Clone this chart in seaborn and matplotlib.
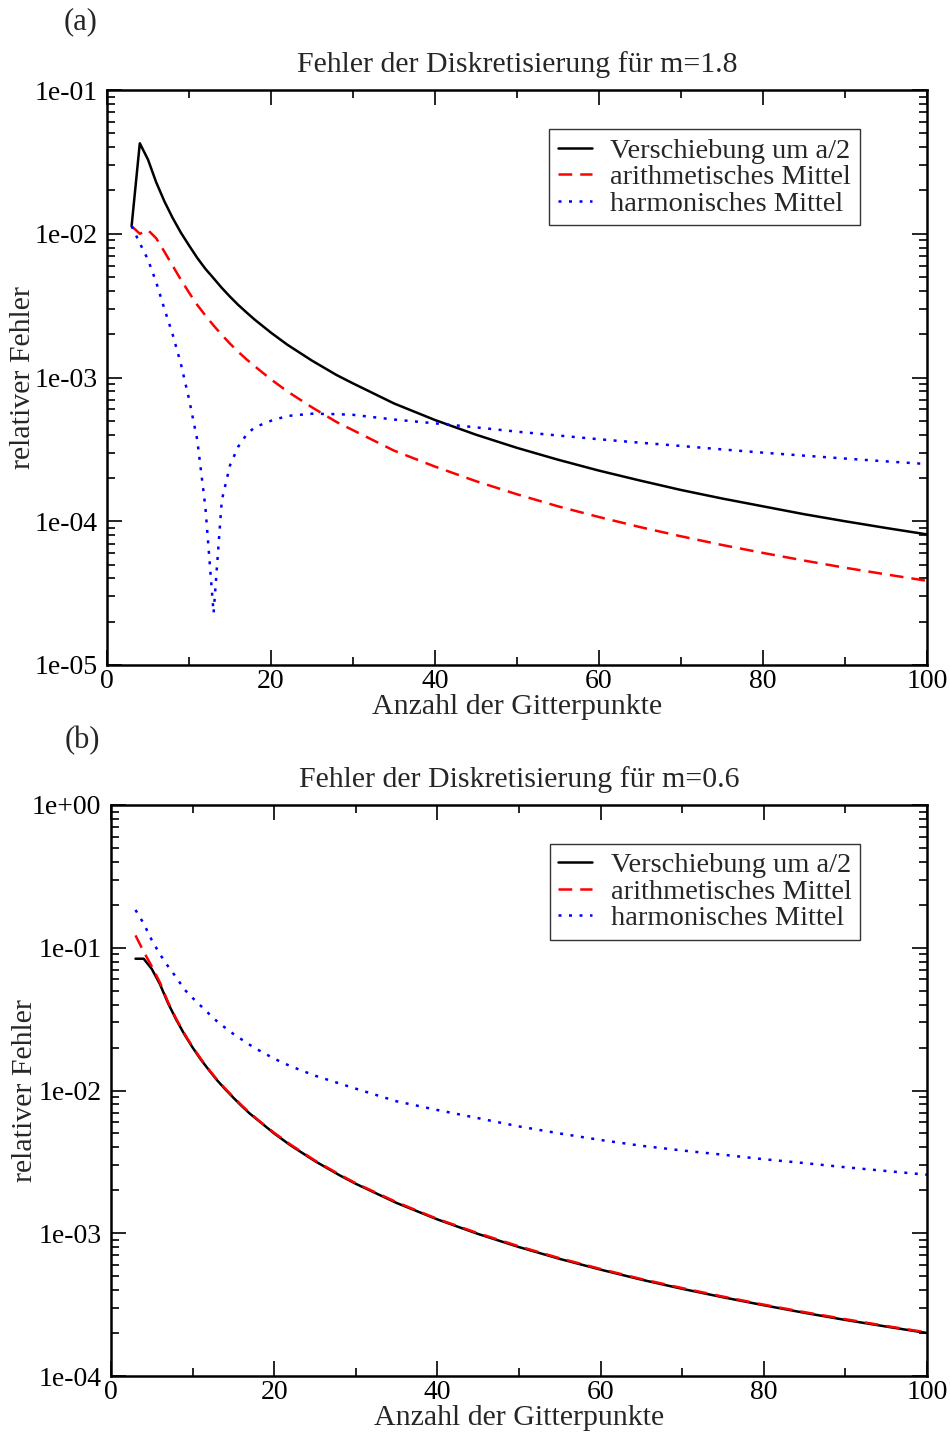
import numpy as np
import pandas as pd
import matplotlib
matplotlib.use("Agg")
import matplotlib.pyplot as plt
import seaborn as sns
from matplotlib.ticker import LogLocator, FuncFormatter, MultipleLocator, NullFormatter

# ---------------- data ----------------
N = [3, 4, 5, 6, 7, 8, 9, 10, 11, 12, 13, 14, 15, 16, 17, 18, 20, 22, 25, 28,
     30, 35, 40, 45, 50, 55, 60, 65, 70, 75, 80, 85, 90, 95, 100]

labels = ["Verschiebung um a/2", "arithmetisches Mittel", "harmonisches Mittel"]

# panel (a): m = 1.8
a_shift = [0.0113, 0.0426, 0.0328, 0.0228, 0.0168, 0.0129, 0.0102, 0.0083, 0.0068, 0.0057,
           0.0049, 0.0042, 0.00365, 0.0032, 0.00284, 0.00253, 0.00205, 0.00169, 0.00131, 0.00104,
           0.00091, 0.00066, 0.000506, 0.000400, 0.000324, 0.000268, 0.000225, 0.000192, 0.000165,
           0.000144, 0.000127, 0.000112, 0.000100, 0.0000898, 0.000081]
a_arith = [0.0113, 0.0100, 0.0106, 0.0093, 0.0075, 0.0060, 0.0048, 0.0039, 0.0032, 0.0027,
           0.0023, 0.00198, 0.00172, 0.00151, 0.00134, 0.00120, 0.00097, 0.00080, 0.00062, 0.00049,
           0.00043, 0.00031, 0.000240, 0.000190, 0.000154, 0.000127, 0.000107, 0.0000911, 0.0000786,
           0.0000684, 0.0000602, 0.0000533, 0.0000475, 0.0000427, 0.0000385]
a_harm = [0.0113, 0.0086, 0.0066, 0.0046, 0.0030, 0.0020, 0.00125, 0.00071, 0.00037, 0.000125,
          0.000023, 0.000140, 0.000245, 0.00033, 0.00040, 0.00045, 0.00050, 0.00054, 0.00056, 0.000556,
          0.00055, 0.00051, 0.00048, 0.00045, 0.00042, 0.000395, 0.000372, 0.000352, 0.000334,
          0.000316, 0.000300, 0.000286, 0.000273, 0.000261, 0.000250]

# panel (b): m = 0.6
b_shift = [0.0838, 0.0838, 0.0710, 0.0555, 0.0408, 0.0313, 0.0247, 0.0200, 0.0165, 0.0139,
           0.0118, 0.0102, 0.0089, 0.0078, 0.0069, 0.0062, 0.0050, 0.00413, 0.0032, 0.00255,
           0.00222, 0.00163, 0.00125, 0.000988, 0.00080, 0.000661, 0.000556, 0.000473, 0.000408,
           0.000356, 0.000313, 0.000277, 0.000247, 0.000222, 0.000200]
b_arith = [0.122, 0.094, 0.074, 0.057, 0.0415, 0.0317, 0.0250, 0.0202, 0.0167, 0.0140,
           0.0119, 0.0103, 0.0090, 0.00788, 0.00698, 0.00623, 0.00505, 0.00418, 0.00323, 0.00258,
           0.00224, 0.00165, 0.00126, 0.00100, 0.00081, 0.000668, 0.000562, 0.000478, 0.000413,
           0.000360, 0.000316, 0.000280, 0.000250, 0.000224, 0.000202]
b_harm = [0.184, 0.148, 0.113, 0.090, 0.074, 0.062, 0.051, 0.0445, 0.0392, 0.0345,
          0.0305, 0.0275, 0.0249, 0.0228, 0.0209, 0.0193, 0.0167, 0.0148, 0.0127, 0.0112,
          0.0103, 0.0084, 0.0073, 0.0064, 0.0056, 0.0050, 0.0045, 0.0041, 0.0038,
          0.00355, 0.0033, 0.0031, 0.0029, 0.00273, 0.00257]

titles = ["Fehler der Diskretisierung für m=1.8", "Fehler der Diskretisierung für m=0.6"]
panel_tags = ["(a)", "(b)"]
xlabel = "Anzahl der Gitterpunkte"
ylabel = "relativer Fehler"

# ---------------- style ----------------
sns.set_style("ticks")
plt.rcParams["font.family"] = ["Liberation Serif", "DejaVu Serif"]

colors = ["black", "#ff0000", "#0000ff"]
lstyles = ["-", (0, (5.5, 3.2)), (0, (1.2, 3.0))]
LW = 1.8

fig = plt.figure(figsize=(9.5, 14.37), dpi=100)
ax_a = fig.add_axes([107 / 950, 1 - 665 / 1437, 820 / 950, 575 / 1437])
ax_b = fig.add_axes([111 / 950, 1 - 1376 / 1437, 816 / 950, 571 / 1437])

panels = [
    (ax_a, [a_shift, a_arith, a_harm], (1e-5, 1e-1), -0.086),
    (ax_b, [b_shift, b_arith, b_harm], (1e-4, 1e0), -0.089),
]

def fmt(v, pos):
    e = int(round(np.log10(v)))
    return "1e%s%02d" % ("-" if e < 0 else "+", abs(e))

for i, (ax, series, ylim, ylx) in enumerate(panels):
    for k, (lab, vals, c, ls) in enumerate(zip(labels, series, colors, lstyles)):
        df = pd.DataFrame({"N": N, "Fehler": vals})
        sns.lineplot(data=df, x="N", y="Fehler", ax=ax, color=c, linestyle=ls,
                     linewidth=LW, label=lab, estimator=None, sort=True,
                     dash_capstyle="butt")
    ax.set_yscale("log")
    ax.set_xlim(0, 100)
    ax.set_ylim(*ylim)
    ax.xaxis.set_major_locator(MultipleLocator(20))
    ax.xaxis.set_minor_locator(MultipleLocator(10))
    ax.yaxis.set_major_locator(LogLocator(base=10, numticks=20))
    ax.yaxis.set_minor_locator(LogLocator(base=10, subs=np.arange(2, 10), numticks=20))
    ax.yaxis.set_major_formatter(FuncFormatter(fmt))
    ax.yaxis.set_minor_formatter(NullFormatter())
    ax.tick_params(which="both", direction="in", top=True, right=True, width=1.2,
                   labelsize=20, colors="black")
    ax.tick_params(which="major", length=11)
    ax.tick_params(which="minor", length=6)
    ax.tick_params(axis="x", which="major", pad=3)
    ax.tick_params(axis="y", which="major", pad=7)
    for sp in ax.spines.values():
        sp.set_linewidth(1.8)
        sp.set_color("black")
    ax.set_xlabel(xlabel, fontsize=21.5, labelpad=0)
    ax.set_ylabel(ylabel, fontsize=21.5)
    ax.yaxis.set_label_coords(ylx, 0.5)
    ax.set_title(titles[i], fontsize=21.5, pad=13)
    h, l = ax.get_legend_handles_labels()
    leg = ax.legend(h, l, loc="upper right", bbox_to_anchor=(0.918, 0.932),
                    fontsize=20.5, frameon=True, fancybox=False, edgecolor="black",
                    handlelength=1.2, handletextpad=0.65, labelspacing=0.02,
                    borderpad=0.3, borderaxespad=0.0)
    leg.get_frame().set_linewidth(1.0)

fig.text(81 / 950, 1 - 22 / 1437, panel_tags[0], fontsize=22, ha="center", va="center")
fig.text(82 / 950, 1 - 741 / 1437, panel_tags[1], fontsize=22, ha="center", va="center")

fig.savefig("out.png", dpi=100, facecolor="white")
